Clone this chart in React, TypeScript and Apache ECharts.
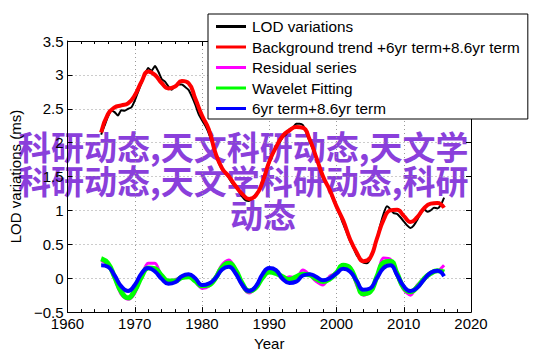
import React, { useEffect, useRef } from "react";
import * as echarts from "echarts";

const years = [
  1965, 1966, 1967, 1968, 1969, 1970, 1971, 1972, 1973, 1974, 1975, 1976, 1977,
  1978, 1979, 1980, 1981, 1982, 1983, 1984, 1985, 1986, 1987, 1988, 1989, 1990,
  1991, 1992, 1993, 1994, 1995, 1996, 1997, 1998, 1999, 2000, 2001, 2002, 2003,
  2004, 2005, 2006, 2007, 2008, 2009, 2010, 2011, 2012, 2013, 2014, 2015, 2016,
];

const bgTrend = [
  2.15, 2.42, 2.52, 2.55, 2.58, 2.7, 2.9, 3.05, 3.0, 2.88, 2.8, 2.83, 2.91,
  2.88, 2.65, 2.4, 2.2, 1.85, 1.62, 1.5, 1.36, 1.24, 1.17, 1.22, 1.42, 1.72,
  1.93, 2.1, 2.18, 2.23, 2.22, 2.05, 1.78, 1.5, 1.3, 1.06, 0.85, 0.58, 0.38,
  0.25, 0.3, 0.58, 0.86, 1.0, 1.01, 0.92, 0.83, 0.9, 1.03, 1.1, 1.11, 1.04,
];

const residual = [
  0.26, 0.2, 0.0, -0.24, -0.31, -0.22, 0.03, 0.22, 0.22, 0.02, -0.05, -0.02,
  0.01, 0.05, -0.05, -0.15, -0.12, 0.02, 0.2, 0.27, 0.13, -0.12, -0.22, -0.14,
  0.03, 0.1, 0.1, -0.02, 0.02, 0.01, 0.12, 0.05, -0.05, -0.1, 0.03, 0.08, 0.18,
  0.17, -0.1, -0.25, -0.2, 0.01, 0.3, 0.28, 0.04, -0.17, -0.25, -0.1, -0.02,
  0.08, 0.1, 0.19,
];

const wavelet = [
  0.29, 0.22, 0.02, -0.2, -0.29, -0.18, 0.02, 0.15, 0.14, 0.04, -0.04, -0.04,
  0.01, 0.02, -0.04, -0.11, -0.1, 0.0, 0.16, 0.22, 0.12, -0.08, -0.19, -0.14,
  0.01, 0.09, 0.07, 0.02, -0.02, 0.02, 0.06, 0.05, -0.01, -0.05, -0.01, 0.08,
  0.19, 0.15, -0.05, -0.23, -0.2, 0.02, 0.23, 0.25, 0.07, -0.14, -0.2, -0.13,
  -0.01, 0.07, 0.11, 0.09,
];

const terms = [
  0.19, 0.17, 0.04, -0.12, -0.19, -0.1, 0.07, 0.15, 0.1, -0.01, -0.08, -0.06,
  0.03, 0.06, 0.0, -0.1, -0.08, 0.0, 0.13, 0.17, 0.07, -0.1, -0.19, -0.12,
  0.06, 0.15, 0.12, -0.01, -0.07, -0.05, 0.04, 0.06, 0.02, -0.03, 0.0, 0.07,
  0.14, 0.1, -0.04, -0.17, -0.15, 0.0, 0.15, 0.19, 0.05, -0.12, -0.19, -0.14,
  -0.02, 0.08, 0.11, 0.03,
];

// LOD observations, every half year from 1965.0
const lod = [
  2.12, 2.25, 2.38, 2.47, 2.45, 2.4, 2.48, 2.47, 2.5, 2.52, 2.62, 2.75, 2.88,
  3.0, 3.1, 3.06, 3.13, 3.05, 2.94, 2.9, 2.83, 2.78, 2.84, 2.86, 2.86, 2.82,
  2.78, 2.68, 2.56, 2.42, 2.33, 2.25, 2.14, 2.0, 1.86, 1.7, 1.6, 1.55, 1.48,
  1.4, 1.35, 1.28, 1.2, 1.15, 1.14, 1.18, 1.24, 1.3, 1.45, 1.58, 1.7, 1.82,
  1.95, 2.0, 2.08, 2.12, 2.2, 2.22, 2.28, 2.28, 2.26, 2.15, 2.02, 1.9, 1.76,
  1.62, 1.48, 1.4, 1.28, 1.16, 1.04, 0.93, 0.8, 0.68, 0.55, 0.45, 0.34, 0.28,
  0.23, 0.22, 0.28, 0.42, 0.58, 0.78, 0.95, 1.06, 1.02, 0.96, 0.95, 0.9, 0.84,
  0.78, 0.74, 0.78, 0.86, 0.95, 1.02, 0.98, 1.0, 1.04, 1.03, 1.08, 1.19,
];
const lodYears = lod.map((_, i) => 1965 + i * 0.5);

const overlayLines = [
  "科研动态,天文科研动态,天文学",
  "科研动态,天文学科研动态,科研",
  "动态",
];

const legendNames = [
  "LOD variations",
  "Background trend +6yr term+8.6yr term",
  "Residual series",
  "Wavelet Fitting",
  "6yr term+8.6yr term",
];

const FONT = "'Liberation Sans', Arial, Helvetica, sans-serif";

export default function App() {
  const ref = useRef<HTMLDivElement>(null);
  useEffect(() => {
    if (!ref.current) return;
    const chart = echarts.init(ref.current, undefined, { renderer: "svg" });
    const pair = (xs: number[], ys: number[]) => ys.map((v, i) => [xs[i], v]);
    const minus = (v: number) => String(v).replace("-", "\u2212");
    const axisCommon = {
      axisLine: { show: true, onZero: false, lineStyle: { color: "#000", width: 1 } },
    };
    const cjk = (text: string, left: number, top: number) => ({
      type: "text",
      left,
      top,
      style: {
        text,
        fontFamily: "'Noto Sans CJK SC'",
        fontWeight: "bold",
        fontSize: 33,
        fill: "#8a3fdb",
      },
    });
    chart.setOption({
      animation: false,
      backgroundColor: "#fff",
      grid: { left: 55, right: 71, top: 41, bottom: 42, containLabel: false },
      legend: {
        orient: "vertical",
        left: 208,
        top: 14,
        padding: [5, 8, 3, 8],
        itemGap: 5.5,
        itemWidth: 30,
        itemHeight: 3,
        icon: "rect",
        backgroundColor: "#fff",
        borderColor: "#000",
        borderWidth: 1,
        borderRadius: 0,
        textStyle: { fontFamily: FONT, fontSize: 15.3, color: "#000", padding: [0, 0, 0, 1] },
        data: legendNames,
      },
      xAxis: [
        {
          type: "value",
          min: 1960,
          max: 2020,
          interval: 10,
          position: "bottom",
          name: "Year",
          nameLocation: "middle",
          nameGap: 23,
          nameTextStyle: { fontFamily: FONT, fontSize: 15, color: "#000" },
          ...axisCommon,
          axisTick: { show: true, inside: true, length: 5, lineStyle: { color: "#000" } },
          minorTick: { show: true, splitNumber: 5, length: 3, lineStyle: { color: "#000" } },
          axisLabel: {
            fontFamily: FONT,
            fontSize: 15,
            color: "#000",
            margin: 4,
            formatter: (v: number) => String(v),
          },
          splitLine: { show: true, lineStyle: { color: "#999", type: [1, 3], width: 1 } },
        },
        {
          type: "value",
          min: 1960,
          max: 2020,
          interval: 10,
          position: "top",
          ...axisCommon,
          axisTick: { show: true, inside: true, length: 5, lineStyle: { color: "#000" } },
          minorTick: { show: true, splitNumber: 5, length: 3, lineStyle: { color: "#000" } },
          axisLabel: { show: false },
          splitLine: { show: false },
        },
      ],
      yAxis: [
        {
          type: "value",
          min: -0.5,
          max: 3.5,
          interval: 0.5,
          position: "left",
          name: "LOD variations (ms)",
          nameLocation: "middle",
          nameGap: 27,
          nameTextStyle: { fontFamily: FONT, fontSize: 15, color: "#000" },
          ...axisCommon,
          axisTick: { show: true, inside: true, length: 5, lineStyle: { color: "#000" } },
          axisLabel: { fontFamily: FONT, fontSize: 15, color: "#000", margin: 4, formatter: minus },
          splitLine: { show: true, lineStyle: { color: "#999", type: [1, 3], width: 1 } },
        },
        {
          type: "value",
          min: -0.5,
          max: 3.5,
          interval: 0.5,
          position: "right",
          ...axisCommon,
          axisTick: { show: true, inside: true, length: 5, lineStyle: { color: "#000" } },
          axisLabel: { show: false },
          splitLine: { show: false },
        },
      ],
      series: [
        {
          name: legendNames[0],
          type: "line",
          data: pair(lodYears, lod),
          showSymbol: false,
          smooth: 0.2,
          lineStyle: { color: "#000", width: 2 },
          itemStyle: { color: "#000" },
        },
        {
          name: legendNames[1],
          type: "line",
          data: pair(years, bgTrend),
          showSymbol: false,
          smooth: true,
          lineStyle: { color: "#ff0000", width: 4 },
          itemStyle: { color: "#ff0000" },
        },
        {
          name: legendNames[2],
          type: "line",
          data: pair(years, residual),
          showSymbol: false,
          smooth: 0.3,
          lineStyle: { color: "#ff00ff", width: 3 },
          itemStyle: { color: "#ff00ff" },
        },
        {
          name: legendNames[3],
          type: "line",
          data: pair(years, wavelet),
          showSymbol: false,
          smooth: true,
          lineStyle: { color: "#00ff00", width: 5 },
          itemStyle: { color: "#00ff00" },
        },
        {
          name: legendNames[4],
          type: "line",
          data: pair(years, terms),
          showSymbol: false,
          smooth: true,
          lineStyle: { color: "#0000ff", width: 4 },
          itemStyle: { color: "#0000ff" },
        },
      ],
      graphic: [
        {
          type: "group",
          z: 100,
          children: [
            cjk(overlayLines[0], 18, 129),
            cjk(overlayLines[1], 18, 163),
            cjk(overlayLines[2], 230, 197),
          ],
        },
      ],
    });
    return () => chart.dispose();
  }, []);
  return (
    <div
      ref={ref}
      style={{ position: "fixed", left: 0, top: 0, width: 542, height: 356 }}
    />
  );
}
